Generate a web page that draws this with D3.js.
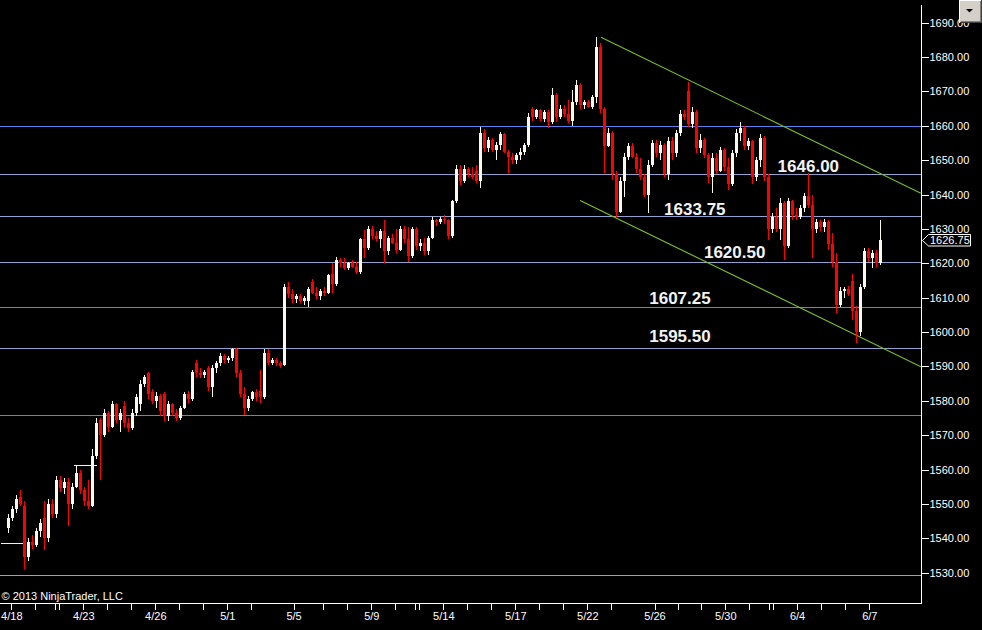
<!DOCTYPE html>
<html><head><meta charset="utf-8">
<script src="https://cdn.jsdelivr.net/npm/d3@7"></script>
<style>html,body{margin:0;padding:0;background:#000;overflow:hidden}svg{display:block}</style>
</head><body><svg id="c" width="982" height="630"></svg>
<script>
// ---- data ----
const opens=[1543,1546,1548.5,1552,1549.5,1534.5,1539,1538,1542,1546,1540,1550,1547,1557,1554.5,1556.5,1550,1555,1559,1554,1551,1549.5,1564,1574.5,1570,1576.5,1572.5,1579,1574.5,1578.5,1573.5,1572,1576.5,1579,1585,1588,1582.5,1580,1581.5,1582,1575.5,1579,1576.5,1575,1578,1582,1580.5,1591,1588,1587.5,1589.5,1584,1589.5,1591,1593,1592,1592.5,1595,1588,1582,1578,1580.5,1582.5,1583,1581,1594,1591,1592,1591,1590.5,1613,1611,1609.5,1610.5,1609,1609,1614.5,1611.5,1610.5,1612,1611.5,1617,1614,1621,1620,1618.5,1620,1619,1617.5,1627,1624.5,1630,1628,1627,1629.5,1623.5,1627.5,1626,1624,1630,1627,1622,1630,1625,1626,1623.5,1627.5,1632.5,1632,1633,1632.5,1628,1638,1647.5,1644,1647.5,1646,1647,1644,1658,1653.5,1656,1653,1654.5,1657.5,1652.5,1651,1650,1651.5,1652.5,1654.5,1665,1662.5,1664.5,1662,1664,1661,1669,1662.5,1665,1663.5,1661.5,1667,1672,1666,1667,1665.5,1668.5,1683,1665,1654,1658,1646,1635,1644,1651,1654,1651,1647.5,1645,1640,1648.5,1655,1652,1654.5,1646,1655.5,1652,1658,1663.5,1670,1660.5,1664,1653.5,1656,1651.5,1645,1650.5,1647,1653,1648,1643,1652,1658,1659.5,1654,1655.5,1645,1650,1656.5,1645,1630,1633.5,1630,1637.5,1625,1638,1634,1633.5,1636,1639.5,1637,1630,1632,1630.5,1632,1625.5,1620.5,1608,1612,1612.5,1615,1606,1600,1613,1623.5,1621.5,1623,1620];
const highs=[1547,1549.5,1552.5,1554,1551,1540,1541,1543,1545.5,1551,1551.5,1551.5,1558,1558,1557.5,1557.5,1556,1561.25,1560,1555,1557,1566,1575,1575,1577.5,1577,1580,1579.5,1577.5,1580,1575,1577.5,1582,1586,1587.5,1588.5,1583.5,1582.5,1582,1582.5,1580,1579.5,1577.5,1578.5,1582.5,1583,1589,1592,1589.5,1589,1590,1590.5,1591.5,1594,1593.5,1593,1595.5,1595.5,1589,1584,1581.5,1583,1583.5,1589,1595,1595,1592.5,1592.5,1591.5,1614,1614.5,1612.5,1611,1611,1610.5,1613,1615.5,1613,1612.5,1613,1617,1620,1621.75,1621.5,1621.5,1620.5,1621,1620.5,1627.5,1629.75,1631,1631,1629.5,1630,1632.5,1628,1628.5,1630,1631,1631,1630.5,1630.5,1630.5,1627,1627.5,1628,1633.5,1633,1633.5,1634,1633,1638.5,1648.5,1648.5,1648.5,1648,1648,1648.5,1659.75,1659,1656.75,1656.5,1655.25,1658.25,1658,1653,1652,1652,1653.5,1655,1663.75,1665.5,1665,1665,1664.5,1664.5,1671,1669.5,1666,1666,1667.5,1670.5,1673.25,1672.5,1667.5,1667.5,1669,1685.75,1684,1665.5,1659.25,1658.5,1647,1645,1652,1655,1655,1652,1650.5,1646,1650,1656,1656,1655.5,1655,1656.75,1656.75,1658.75,1664.5,1664.5,1672.75,1665.5,1664.5,1657.5,1656.5,1652,1652,1652,1653.75,1653.5,1650.5,1653,1659,1661,1660,1656.5,1656,1651,1657.75,1657,1646,1634.5,1636,1639,1638,1639,1638.5,1636,1637,1640.5,1646.25,1640,1633,1632.5,1633,1632.5,1628.75,1623,1613,1613,1613.5,1617,1607.5,1614,1624.5,1624.5,1624,1624,1632.5];
const lows=[1541.5,1545,1547.5,1549.5,1531,1533.5,1537,1537.5,1540.5,1536.5,1539,1546,1546,1553.5,1553,1543.5,1548.5,1554.5,1553,1549.5,1548.5,1549,1563,1557,1569.5,1571,1572,1573.5,1571,1572.5,1571,1571.5,1575.5,1577,1584,1580.5,1579,1578,1575.5,1574,1574,1575.5,1574,1574.5,1577.5,1579.5,1580,1587,1586.5,1586.5,1583,1581,1588,1590,1591,1591,1591.5,1587,1581,1576,1577,1580,1580,1579.5,1580.5,1590.5,1590.5,1590,1589.5,1590,1610,1608.5,1608.5,1608.5,1608,1607.25,1611,1609.5,1609.25,1610.5,1611,1611.5,1613.5,1619,1618,1618,1618.5,1617,1617,1621.5,1624,1627,1626.5,1624.5,1620,1622.5,1625.5,1623,1623.5,1626,1620.25,1621.5,1624,1623.5,1622.5,1622.5,1627,1631,1631.5,1631.5,1627,1627.5,1637.5,1642.75,1643.5,1645,1644.5,1643.5,1642,1652.5,1652.25,1652.5,1650,1653,1652,1646.25,1649,1649,1650,1651.5,1653.75,1661.5,1662,1661.5,1661.25,1659.5,1660.5,1661,1662,1662.5,1660.75,1660,1666,1665,1665,1665.25,1665,1666.5,1663.75,1646.25,1653.75,1644.25,1633.5,1634.5,1639.25,1650,1650.5,1646.25,1644.25,1639.25,1634.5,1648,1651,1650,1645,1644.25,1650,1651,1657,1661.75,1659.75,1659.5,1652,1652,1650.5,1643.25,1640.5,1646,1646.5,1647,1641.25,1642.5,1651,1655.5,1653,1653,1643,1644,1648,1644,1626.75,1628.75,1629,1626.75,1621,1624.5,1632.5,1632.5,1633,1635,1636,1621.5,1628.75,1629.5,1629,1624,1619,1605.5,1607.25,1610,1610.5,1603.5,1596.75,1599,1612.5,1620.5,1618.5,1619,1619.5];
const closes=[1546,1548.5,1551.5,1550,1534.5,1539,1538,1542,1544.5,1540,1550,1547,1557,1554.5,1556.5,1550,1555,1559,1554,1551,1549.5,1564,1573.5,1570,1576.5,1572.5,1579,1574.5,1576.5,1573.5,1572,1576.5,1581,1585,1587,1582,1580,1581.5,1577,1575.5,1579,1576.5,1575,1578,1582,1580.5,1588.5,1588,1587.5,1588.5,1584,1589.5,1591,1593,1592,1592.5,1595,1588,1582,1578,1580.5,1582.5,1581,1581,1594,1591,1592,1591,1590,1613,1611,1609.5,1610.5,1609,1610,1612.5,1611.5,1610.5,1612,1611.5,1616.5,1614,1621,1620,1618.5,1620,1619,1617.5,1627,1624.5,1630,1628,1627,1629.5,1623.5,1627.5,1626,1624,1630,1627,1622,1630,1625,1626,1623.5,1627.5,1632.5,1632,1633,1632.5,1628,1638,1647.5,1644,1647.5,1646,1645,1644,1658,1653.5,1656,1653,1654.5,1657.5,1652.5,1651,1650,1651.5,1652.5,1654.5,1662.5,1662.5,1664.5,1662,1664,1661,1669,1662.5,1665,1663.5,1661.5,1667,1672,1666,1667,1665.5,1668.5,1683,1665,1654,1658,1646,1635,1644,1651,1654,1651,1647.5,1645,1640,1648.5,1655,1652,1654.5,1646,1655.5,1652,1658,1663.5,1662.5,1660.5,1664,1653.5,1656,1651.5,1645,1650.5,1647,1653,1648,1643,1652,1658,1659.5,1654,1655.5,1645,1650,1656.5,1645,1630,1633.5,1630,1637.5,1625,1638,1634,1633.5,1636,1639.5,1637,1630,1632,1630.5,1632,1625.5,1620.5,1608,1612,1612.5,1611,1606,1600,1613,1623.5,1621.5,1623,1620,1626.75];
const firstBarSlot=-0.1375;   // session position of the first bar
const barsPerSession=6;
const tickSlots=[0,1,1.8,2,3,4,5,6,7,8,9,10,11.76,13,14,15,16,16.8,17,18,19,20,21,22,23,24,25,26.8,27.775,28.75,29.75,30.75,31.55,31.75,32.74,33.75,34.75,35.75];
const tickLabels=["4/18","","","","4/23","","","4/26","","","5/1","","5/5","","","5/9","","","","5/14","","","5/17","","","5/22","","5/26","","","5/30","","","","6/4","","","6/7"];
const priceTicks=[1530,1540,1550,1560,1570,1580,1590,1600,1610,1620,1630,1640,1650,1660,1670,1680,1690];
const levelValues=[1660,1646,1633.75,1620.5,1607.25,1595.5,1576,1529.25];
const labeledLevels=[1646,1633.75,1620.5,1607.25,1595.5];
const trendStarts=[[24.57,1685.75],[23.7,1638.3]];
const trendEnds=[[37.9,1640.4],[37.9,1589.9]];
const flatSegments=[[-0.43,0.475,1538.75],[2.61,3.56,1561.25]];
const lastPrice=1626.75;

// ---- layout / style ----
const W=982,H=630,plotRight=921,axisY=603;
const svg=d3.select("#c");
const FONT="'Liberation Sans', Arial, sans-serif";
svg.append("rect").attr("width",W).attr("height",H).attr("fill","#000");
const x=d3.scaleLinear().domain([0,36]).range([11.3,875.3]);
const y=d3.scaleLinear().domain([1530,1690]).range([572.7,22.7]);
const major=new Set([1660,1607.25,1576]);
const labelLayout={1646:[31.93,1.6],1633.75:[27.2,1],1620.5:[28.86,3.7],1607.25:[26.58,2.7],1595.5:[26.58,6]};

svg.append("defs").append("clipPath").attr("id","plot").append("rect")
  .attr("x",0).attr("y",0).attr("width",plotRight).attr("height",axisY);
const g=svg.append("g").attr("clip-path","url(#plot)");

// horizontal levels
g.selectAll("line.lvl").data(levelValues).join("line").attr("class","lvl")
  .attr("x1",0).attr("x2",plotRight)
  .attr("y1",d=>Math.round(y(d))+0.5).attr("y2",d=>Math.round(y(d))+0.5)
  .attr("stroke",d=>major.has(d)?"#5a82ee":"#8ea3d2").attr("stroke-width",1)
  .attr("shape-rendering","crispEdges");

// trend lines
g.selectAll("line.tr").data(trendStarts).join("line").attr("class","tr")
  .attr("x1",d=>x(d[0])).attr("y1",d=>y(d[1]))
  .attr("x2",(d,i)=>x(trendEnds[i][0])).attr("y2",(d,i)=>y(trendEnds[i][1]))
  .attr("stroke","#7cc41c").attr("stroke-width",1.1);

// flat segments
g.selectAll("line.flat").data(flatSegments).join("line").attr("class","flat")
  .attr("x1",d=>x(d[0])).attr("x2",d=>x(d[1]))
  .attr("y1",d=>Math.round(y(d[2]))+0.5).attr("y2",d=>Math.round(y(d[2]))+0.5)
  .attr("stroke","#f4f0e6").attr("stroke-width",1).attr("shape-rendering","crispEdges");

// candles
const bars=closes.map((c,i)=>({o:opens[i],h:highs[i],l:lows[i],c:c,s:firstBarSlot+i/barsPerSession}));
const cg=g.append("g").attr("shape-rendering","crispEdges");
const bg=cg.selectAll("g").data(bars).join("g");
bg.append("line")
  .attr("x1",d=>Math.round(x(d.s))+0.5).attr("x2",d=>Math.round(x(d.s))+0.5)
  .attr("y1",d=>y(d.h)).attr("y2",d=>y(d.l))
  .attr("stroke",d=>d.c>=d.o?"#fbf8ee":"#ff0000").attr("stroke-width",1);
bg.append("rect")
  .attr("x",d=>Math.round(x(d.s))-1).attr("width",3)
  .attr("y",d=>y(Math.max(d.o,d.c)))
  .attr("height",d=>Math.max(1,Math.abs(y(d.o)-y(d.c))))
  .attr("fill",d=>d.c>=d.o?"#fbf8ee":"#ff0000");

// level labels
g.selectAll("text.lbl").data(labeledLevels).join("text").attr("class","lbl")
  .attr("x",d=>x(labelLayout[d][0])).attr("y",d=>y(d)-labelLayout[d][1])
  .attr("fill","#f2f2f2").attr("font-family",FONT).attr("font-weight","bold")
  .attr("font-size","17px").text(d=>d.toFixed(2));

// copyright
svg.append("text").attr("x",1.5).attr("y",600).attr("fill","#fff")
  .attr("font-family",FONT).attr("font-size","11px").text("© 2013 NinjaTrader, LLC");

// axes
const ya=svg.append("g").attr("transform",`translate(${plotRight+0.5},0)`)
  .call(d3.axisRight(y).tickValues(priceTicks).tickSize(7).tickPadding(1).tickFormat(d3.format(".2f")));
ya.select(".domain").remove();
ya.selectAll("line").attr("stroke","#fff").attr("shape-rendering","crispEdges");
ya.selectAll("text").attr("fill","#fff").attr("font-family",FONT).attr("font-size","11px");

const xa=svg.append("g").attr("transform",`translate(0,${axisY+0.5})`)
  .call(d3.axisBottom(x).tickValues(tickSlots).tickSize(6).tickPadding(3).tickFormat((d,i)=>tickLabels[i]));
xa.select(".domain").remove();
xa.selectAll("line").attr("stroke","#fff").attr("shape-rendering","crispEdges");
xa.selectAll("text").attr("fill","#fff").attr("font-family",FONT).attr("font-size","11px");

svg.append("line").attr("x1",0).attr("x2",plotRight+1).attr("y1",axisY+0.5).attr("y2",axisY+0.5)
  .attr("stroke","#fff").attr("shape-rendering","crispEdges");
svg.append("line").attr("x1",plotRight+0.5).attr("x2",plotRight+0.5).attr("y1",5).attr("y2",axisY+0.5)
  .attr("stroke","#fff").attr("shape-rendering","crispEdges");

// last price marker
const py=Math.round(y(lastPrice))+0.5;
svg.append("path")
  .attr("d",`M${plotRight+1.5},${py} L${plotRight+7.5},${py-6} L970.5,${py-6} L970.5,${py+5.5} L${plotRight+7.5},${py+5.5} Z`)
  .attr("fill","#000").attr("stroke","#fff").attr("stroke-width",1);
svg.append("text").attr("x",plotRight+9).attr("y",py).attr("dy","0.36em").attr("fill","#fff")
  .attr("font-family",FONT).attr("font-size","11px").text(lastPrice.toFixed(2));

// dropdown button
const b=svg.append("g").attr("shape-rendering","crispEdges");
b.append("rect").attr("x",959).attr("y",0).attr("width",23).attr("height",23).attr("fill","#d4d0c8");
b.append("path").attr("d","M959.5,22.5 V0.5 H981.5").attr("fill","none").attr("stroke","#ffffff");
b.append("path").attr("d","M959.5,22.5 H981.5 V0").attr("fill","none").attr("stroke","#404040");
b.append("path").attr("d","M960.5,21.5 H980.5 V1").attr("fill","none").attr("stroke","#808080");
svg.append("path").attr("d","M966,9 L973,9 L969.5,12.5 Z").attr("fill","#000");
</script></body></html>
